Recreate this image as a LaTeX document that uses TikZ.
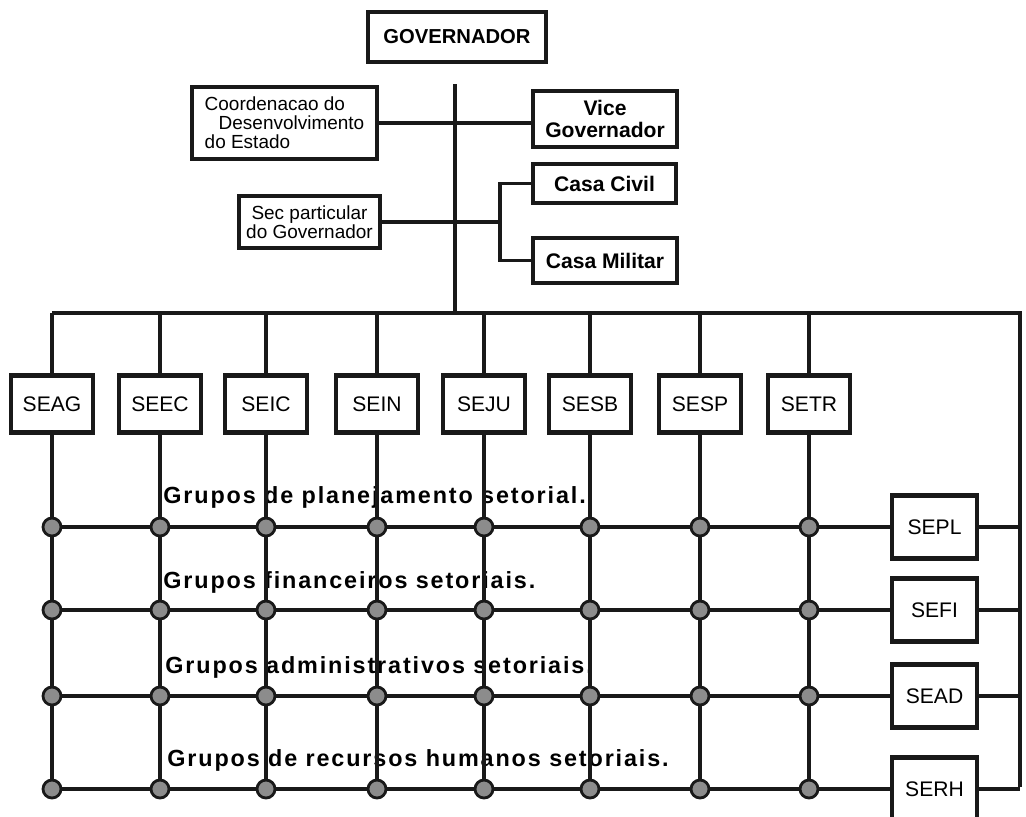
\documentclass[tikz,border=0pt]{standalone}
\usepackage{fontspec}
\setmainfont{Liberation Sans}
\newfontfamily\grupofont{Liberation Sans}[LetterSpace=8]
\usetikzlibrary{positioning, calc}
\definecolor{mainBlack}{gray}{0.1}
\definecolor{dotGray}{gray}{0.55}

\begin{document}
\begin{tikzpicture}[x=0.02cm, y=-0.02cm,
    caixa/.style={draw=mainBlack, line width=2.6pt, fill=white, inner sep=2pt},
    linha/.style={mainBlack, line width=2.2pt},
    ponto/.style={circle, draw=mainBlack, fill=dotGray, line width=1.6pt, minimum size=0.36cm, inner sep=0pt},
    grupo/.style={anchor=west, inner sep=0pt, font={\grupofont\bfseries\fontsize{13.3}{15}\selectfont}}]
    \useasboundingbox (0,0) rectangle (1026,816);

    % Governador
    \node[caixa, minimum width=3.56cm, minimum height=1cm, font=\bfseries\fontsize{11.5}{13}\selectfont] (gov) at (457,37) {GOVERNADOR};
    \coordinate (topo) at (455,84);
    \coordinate (barra) at (455,313);
    \draw[linha, line width=2.8pt] (topo) -- (barra);

    % Assessoria direta
    \node[caixa, minimum width=3.7cm, minimum height=1.44cm, align=left, font=\fontsize{10.8}{10.8}\selectfont] (coord) at (284.5,123) {Coordenacao do\\\hspace{0.28cm}Desenvolvimento\\do Estado};
    \node[caixa, minimum width=2.88cm, minimum height=1.12cm, align=center, font=\bfseries\fontsize{12}{13}\selectfont] (vice) at (605,119) {Vice\\Governador};
    \node[caixa, minimum width=2.82cm, minimum height=1.04cm, align=center, font=\fontsize{10.8}{10.8}\selectfont] (sec) at (309.5,222) {Sec particular\\do Governador};
    \node[caixa, minimum width=2.86cm, minimum height=0.78cm, font=\bfseries\fontsize{12}{13}\selectfont] (civil) at (604.5,183.5) {Casa Civil};
    \node[caixa, minimum width=2.88cm, minimum height=0.9cm, font=\bfseries\fontsize{12}{13}\selectfont] (militar) at (605,260.5) {Casa Militar};

    \draw[linha] (coord.east) -- (coord.east -| vice.west);
    \coordinate (chave) at (500,222);
    \draw[linha] (sec.east) -- (chave);
    \draw[linha] (civil.west) -| (chave) |- (militar.west);

    % Barramento
    \coordinate (barraE) at (52,313);
    \coordinate (barraD) at (1020,313);
    \coordinate (canto) at (1020,787);
    \draw[linha] (barraE) -- (barraD) -- (canto);

    % Grupos setoriais
    \node[grupo] (gplan) at (163,497) {Grupos de planejamento setorial.};
    \node[grupo] (gfin) at (163,582) {Grupos financeiros setoriais.};
    \node[grupo] (gadm) at (165,667) {Grupos administrativos setoriais.};
    \node[grupo] (grh) at (167,760) {Grupos de recursos humanos setoriais.};

    % Secretarias sistemicas
    \foreach \nome/\y in {SEPL/527, SEFI/610, SEAD/696, SERH/789}{
        \node[caixa, minimum width=1.7cm, minimum height=1.26cm, font=\fontsize{12}{14}\selectfont] (\nome) at (934.5,\y) {\nome};
        \draw[linha] (barraE |- \nome.west) -- (\nome.west);
        \draw[linha] (\nome.east) -- (\nome.east -| canto);
    }

    % Secretarias setoriais
    \foreach \nome/\x in {SEAG/52, SEEC/160, SEIC/266, SEIN/377, SEJU/484, SESB/590, SESP/700, SETR/809}{
        \node[caixa, minimum width=1.64cm, minimum height=1.14cm, font=\fontsize{12}{14}\selectfont] (\nome) at (\x,404) {\nome};
        \draw[linha] (\nome.north |- barraE) -- (\nome.north);
        \draw[linha] (\nome.south) -- (\nome.south |- SERH.west);
        \foreach \fila in {SEPL, SEFI, SEAD, SERH}
            \node[ponto] (p-\nome-\fila) at (\nome.south |- \fila.west) {};
    }
\end{tikzpicture}
\end{document}
